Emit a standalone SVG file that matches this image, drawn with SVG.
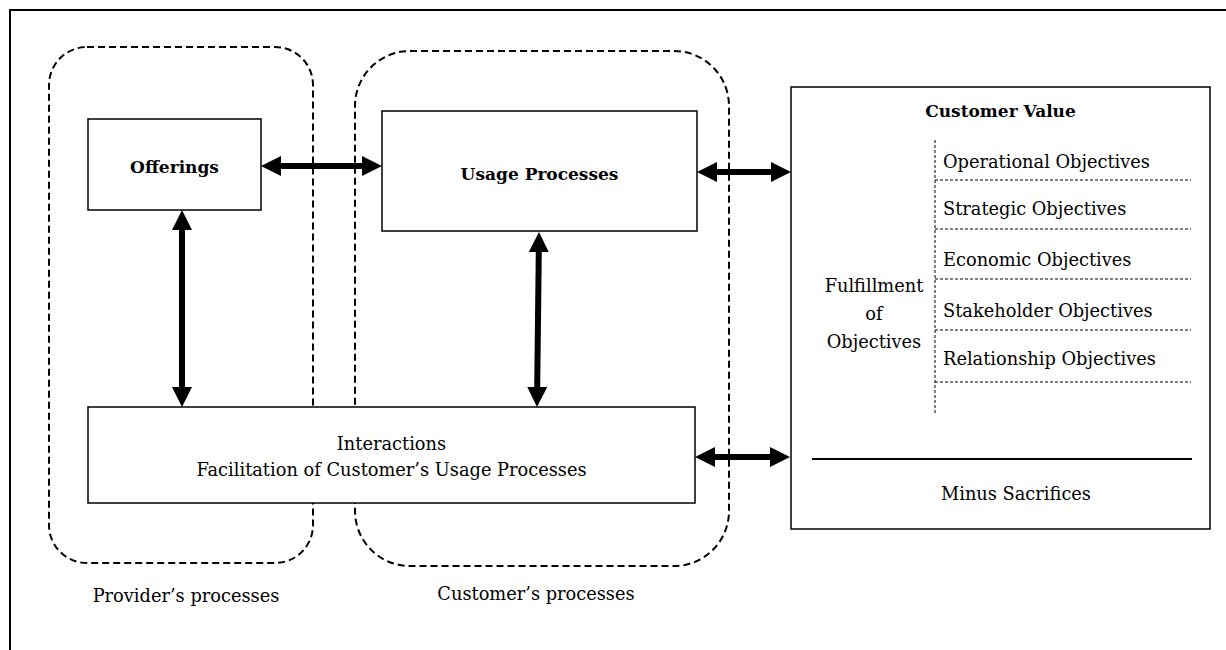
<svg xmlns="http://www.w3.org/2000/svg" width="1226" height="650" viewBox="0 0 1226 650">
<style>
  .t { font-family: "DejaVu Serif", "Liberation Serif", serif; font-size: 17.8px; fill: #000; }
  .b { font-family: "DejaVu Serif", "Liberation Serif", serif; font-size: 17px; font-weight: bold; fill: #000; }
  .c { text-anchor: middle; }
  .box { fill: #fff; stroke: #000; stroke-width: 1.5; }
  .group { fill: none; stroke: #000; stroke-width: 2; stroke-dasharray: 7 4; }
  .dot { fill: none; stroke: #000; stroke-width: 1; stroke-dasharray: 3 2; }
  .arrow { stroke: #000; stroke-width: 6; fill: none; marker-start: url(#head); marker-end: url(#head); }
</style>
<defs>
  <marker id="head" markerUnits="userSpaceOnUse" markerWidth="20" markerHeight="20" viewBox="0 0 20 20" refX="10" refY="10" orient="auto-start-reverse">
    <path d="M0,0 L20,10 L0,20 Z" fill="#000"/>
  </marker>
</defs>
<rect width="1226" height="650" fill="#fff"/>
<path d="M10,652 V10 H1228" fill="none" stroke="#000" stroke-width="2"/>

<g id="provider-processes">
  <rect class="group" x="49" y="47" width="264" height="516" rx="38" ry="38"/>
  <text class="t c" x="186" y="602">Provider’s processes</text>
</g>
<g id="customer-processes">
  <rect class="group" x="355" y="51" width="374" height="515" rx="55" ry="55"/>
  <text class="t c" x="536" y="600">Customer’s processes</text>
</g>

<g id="offerings">
  <rect class="box" x="88" y="119" width="173" height="91"/>
  <text class="b c" x="174.5" y="173">Offerings</text>
</g>
<g id="usage-processes">
  <rect class="box" x="382" y="111" width="315" height="120"/>
  <text class="b c" x="539.5" y="180">Usage Processes</text>
</g>
<g id="interactions">
  <rect class="box" x="88" y="407" width="607" height="96"/>
  <text class="t c" x="391.5" y="450">Interactions</text>
  <text class="t c" x="391.5" y="476">Facilitation of Customer’s Usage Processes</text>
</g>
<g id="customer-value">
  <rect class="box" x="791" y="87" width="419" height="442"/>
  <text class="b c" x="1000.5" y="117">Customer Value</text>
  <line class="dot" x1="935" y1="140" x2="935" y2="415"/>
  <line class="dot" x1="935" y1="180" x2="1191" y2="180"/>
  <line class="dot" x1="935" y1="229" x2="1191" y2="229"/>
  <line class="dot" x1="935" y1="279" x2="1191" y2="279"/>
  <line class="dot" x1="935" y1="330" x2="1191" y2="330"/>
  <line class="dot" x1="935" y1="382" x2="1191" y2="382"/>
  <text class="t" x="943" y="168">Operational Objectives</text>
  <text class="t" x="943" y="215">Strategic Objectives</text>
  <text class="t" x="943" y="266">Economic Objectives</text>
  <text class="t" x="943" y="317">Stakeholder Objectives</text>
  <text class="t" x="943" y="365">Relationship Objectives</text>
  <text class="t c" x="874" y="292">Fulfillment</text>
  <text class="t c" x="874" y="320">of</text>
  <text class="t c" x="874" y="348">Objectives</text>
  <line x1="812" y1="459" x2="1192" y2="459" stroke="#000" stroke-width="2"/>
  <text class="t c" x="1016" y="500">Minus Sacrifices</text>
</g>

<g id="connectors">
  <line class="arrow" x1="271" y1="166" x2="372" y2="166"/>
  <line class="arrow" x1="707" y1="172" x2="781" y2="172"/>
  <line class="arrow" x1="182" y1="220" x2="182" y2="397"/>
  <line class="arrow" x1="538.9" y1="242" x2="537.1" y2="397"/>
  <line class="arrow" x1="705" y1="457" x2="780" y2="457"/>
</g>
</svg>
